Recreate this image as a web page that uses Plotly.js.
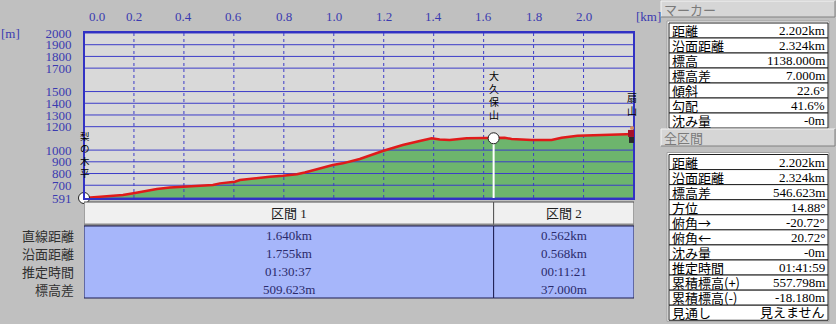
<!DOCTYPE html>
<html><head><meta charset="utf-8">
<script src="https://cdn.plot.ly/plotly-3.0.1.min.js"></script>
<style>html,body{margin:0;padding:0;background:#c0c0c0;overflow:hidden}#chart{width:836px;height:324px}</style>
</head><body><div id="chart"></div>
<script>
// ---- data ----
const distKm = [0.0,0.064,0.116,0.156,0.204,0.264,0.292,0.344,0.396,0.464,0.516,0.544,0.604,0.624,0.692,0.744,0.796,0.852,0.884,0.944,0.996,1.036,1.104,1.196,1.276,1.344,1.392,1.424,1.464,1.532,1.640,1.684,1.712,1.792,1.872,1.912,1.976,2.112,2.202];
const elevM  = [591,602,612,617,634,659,668,681,688,698,702,716,730,745,764,773,781,793,809,845,873,887,924,992,1044,1078,1101,1091,1086,1101,1101,1106,1095,1086,1086,1106,1123,1129,1138];
const xTickVals = [0.0,0.2,0.4,0.6,0.8,1.0,1.2,1.4,1.6,1.8,2.0];
const xTickText = ['0.0','0.2','0.4','0.6','0.8','1.0','1.2','1.4','1.6','1.8','2.0'];
const yTickVals = [591,700,800,900,1000,1200,1300,1400,1500,1700,1800,1900,2000];
const yTickText = ['591','700','800','900','1000','1200','1300','1400','1500','1700','1800','1900','2000'];
const waypointNames = ['梨の木平','大久保山','扇山'];
const waypointKm = [0.0,1.640,2.202];
const waypointElev = [591,1101,1138];
const sectionNames = ['区間 1','区間 2'];
const sectionEndKm = [1.640,2.202];
const sectionRowLabels = ['直線距離','沿面距離','推定時間','標高差'];
const section1Values = ['1.640km','1.755km','01:30:37','509.623m'];
const section2Values = ['0.562km','0.568km','00:11:21','37.000m'];
const markerLabels = ['距離','沿面距離','標高','標高差','傾斜','勾配','沈み量'];
const markerValues = ['2.202km','2.324km','1138.000m','7.000m','22.6°','41.6%','-0m'];
const totalLabels = ['距離','沿面距離','標高差','方位','俯角→','俯角←','沈み量','推定時間','累積標高(+)','累積標高(-)','見通し'];
const totalValues = ['2.202km','2.324km','546.623m','14.88°','-20.72°','20.72°','-0m','01:41:59','557.798m','-18.180m','見えません'];

// ---- helpers ----
const W=836,H=324;
const px=x=>x/W, py=y=>1-y/H;
const SERIF='"Liberation Serif","Noto Sans CJK JP",serif';
const GOTH='"Noto Sans CJK JP",sans-serif';
const BLUE='#3a3ab0';
const xMax = distKm[distKm.length-1], yMin=yTickVals[0], yMax=yTickVals[yTickVals.length-1];
const shapes=[], annotations=[];
function rect(x0,y0,x1,y1,fill,lc,lw,extra){shapes.push(Object.assign({type:'rect',xref:'paper',yref:'paper',x0:px(x0),x1:px(x1),y0:py(y0),y1:py(y1),fillcolor:fill,line:{color:lc,width:lw},layer:'above'},extra||{}));}
function line(x0,y0,x1,y1,c,w){shapes.push({type:'line',xref:'paper',yref:'paper',x0:px(x0),x1:px(x1),y0:py(y0),y1:py(y1),line:{color:c,width:w},layer:'above'});}
function txt(x,y,text,anchor,font){annotations.push({xref:'paper',yref:'paper',x:px(x),y:py(y),text:text,showarrow:false,xanchor:anchor,yanchor:'middle',font:font,borderpad:0});}

// ---- traces ----
const traces=[];
traces.push({x:distKm,y:elevM,type:'scatter',mode:'lines',fill:'tozeroy',fillcolor:'#6db56d',line:{color:'rgba(0,0,0,0)',width:0},hoverinfo:'skip'});
let gx=[],gy=[];
yTickVals.forEach(v=>{gx.push(0,xMax,null);gy.push(v,v,null);});
traces.push({x:gx,y:gy,type:'scatter',mode:'lines',line:{color:'#3c3cc8',width:1},hoverinfo:'skip'});
let vx=[],vy=[];
xTickVals.slice(1).forEach(v=>{vx.push(v,v,null);vy.push(yMin,yMax,null);});
traces.push({x:vx,y:vy,type:'scatter',mode:'lines',line:{color:'#3c3cc8',width:1,dash:'dot'},hoverinfo:'skip'});
traces.push({x:[waypointKm[1],waypointKm[1]],y:[yMin,waypointElev[1]],type:'scatter',mode:'lines',line:{color:'#ffffff',width:2},hoverinfo:'skip'});
traces.push({x:distKm,y:elevM,type:'scatter',mode:'lines',line:{color:'#e01a1a',width:2.5},hoverinfo:'skip'});
traces.push({x:waypointKm.slice(0,2),y:waypointElev.slice(0,2),type:'scatter',mode:'markers',marker:{size:11,color:'#ffffff',line:{color:'#202020',width:1}},hoverinfo:'skip',cliponaxis:false});

// ---- plot frame ----
rect(84,32,634,199,'rgba(0,0,0,0)','#3232c4',2);

xTickVals.forEach((v,i)=>{annotations.push({xref:'x',yref:'paper',x:v,y:py(16),text:xTickText[i],showarrow:false,xanchor:'center',yanchor:'middle',xshift:i===0?13:0,font:{family:SERIF,size:13,color:BLUE}});});
txt(648,16,'[km]','center',{family:SERIF,size:13,color:BLUE});
txt(10,33,'[m]','center',{family:SERIF,size:13,color:BLUE});

// waypoint vertical labels (one character per line)
waypointNames.forEach((name,k)=>{
  const chars=[...name];
  annotations.push({xref:'x',yref:'y',x:waypointKm[k],y:waypointElev[k],text:chars.join('<br>'),showarrow:false,xanchor:'center',yanchor:'bottom',
    xshift:k===2?-2:(k===0?1:0),yshift:k===0?17:15,borderpad:0,font:{family:GOTH,size:k===0?9.5:10,color:'#000'}});
});
// hiker icon at end point
const hk={xref:'x',yref:'y',xsizemode:'pixel',ysizemode:'pixel',xanchor:waypointKm[2],yanchor:waypointElev[2],layer:'above'};
shapes.push(Object.assign({type:'rect',x0:-5,x1:1,y0:-9,y1:-3,fillcolor:'#2a2a2a',line:{width:0}},hk));
shapes.push(Object.assign({type:'rect',x0:-6,x1:2,y0:-3,y1:4,fillcolor:'#a8102a',line:{width:0}},hk));
shapes.push(Object.assign({type:'circle',x0:-4,x1:0,y0:4,y1:8,fillcolor:'#d89060',line:{width:0}},hk));

// ---- section table ----
let prev=0;
sectionNames.forEach((name,k)=>{
  const e=sectionEndKm[k];
  shapes.push({type:'rect',xref:'x',yref:'paper',x0:prev,x1:e,y0:py(225),y1:py(202),fillcolor:'#f0f0f0',line:{color:'#505050',width:1},layer:'above'});
  shapes.push({type:'line',xref:'x',yref:'paper',x0:prev,x1:e,y0:py(224.5),y1:py(224.5),line:{color:'#8a8a8a',width:2},layer:'above'});
  shapes.push({type:'rect',xref:'x',yref:'paper',x0:prev,x1:e,y0:py(298),y1:py(226),fillcolor:'#a6b6fa',line:{color:'#1c1c50',width:1},layer:'above'});
  const mid=(prev+e)/2;
  annotations.push({xref:'x',yref:'paper',x:mid,y:py(213),text:name,showarrow:false,xanchor:'center',yanchor:'middle',font:{family:SERIF,size:13,color:'#202020'}});
  const vals=k===0?section1Values:section2Values;
  vals.forEach((v,r)=>{annotations.push({xref:'x',yref:'paper',x:mid,y:py(235+r*18),text:v,showarrow:false,xanchor:'center',yanchor:'middle',font:{family:SERIF,size:13,color:'#2a2a6a'}});});
  prev=e;
});
sectionRowLabels.forEach((l,r)=>txt(75,235+r*18,l,'right',{family:GOTH,size:13,color:'#303030'}));

// ---- right panel ----
function header(y0,y1,text){
  rect(661,y0,835,y1,'#d6d6d6','rgba(0,0,0,0)',0);
  line(661,y0,835,y0,'#f4f4f4',1);line(661,y0,661,y1,'#f4f4f4',1);
  line(661,y1,835,y1,'#808080',1);line(835,y0,835,y1,'#808080',1);
  txt(663,(y0+y1)/2,text,'left',{family:GOTH,size:13,color:'#7a7a7a'});
}
function infoTable(y0,rowH,labels,values){
  rect(667,y0-2,829,y0+rowH*labels.length+1,'#ffffff','#a0a0a0',1);
  labels.forEach((l,i)=>{
    const a=y0+i*rowH,b=a+rowH;
    rect(669,a,828,b,'#ffffff','#202020',1);
    txt(671,(a+b)/2,l,'left',{family:GOTH,size:13,color:'#000'});
    txt(826,(a+b)/2,values[i],'right',{family:SERIF,size:13,color:'#000'});
  });
}
header(1,17,'マーカー');
infoTable(23,15,markerLabels,markerValues);
header(129,146,'全区間');
infoTable(154.5,15.07,totalLabels,totalValues);

const layout={
  width:W,height:H,margin:{l:0,r:0,t:0,b:0},
  paper_bgcolor:'#c0c0c0',plot_bgcolor:'#d9d9d9',showlegend:false,
  xaxis:{domain:[px(84),px(634)],range:[0,xMax],showgrid:false,zeroline:false,showticklabels:false,showline:false,ticks:'',fixedrange:true},
  yaxis:{domain:[py(198),py(33)],range:[yMin,yMax],tickvals:yTickVals,ticktext:yTickText,showgrid:false,zeroline:false,showline:false,
    ticks:'outside',ticklen:9,tickcolor:'rgba(0,0,0,0)',tickfont:{family:SERIF,size:13,color:BLUE},fixedrange:true},
  shapes:shapes,annotations:annotations
};
Plotly.newPlot('chart',traces,layout,{displayModeBar:false,staticPlot:true});
</script></body></html>
